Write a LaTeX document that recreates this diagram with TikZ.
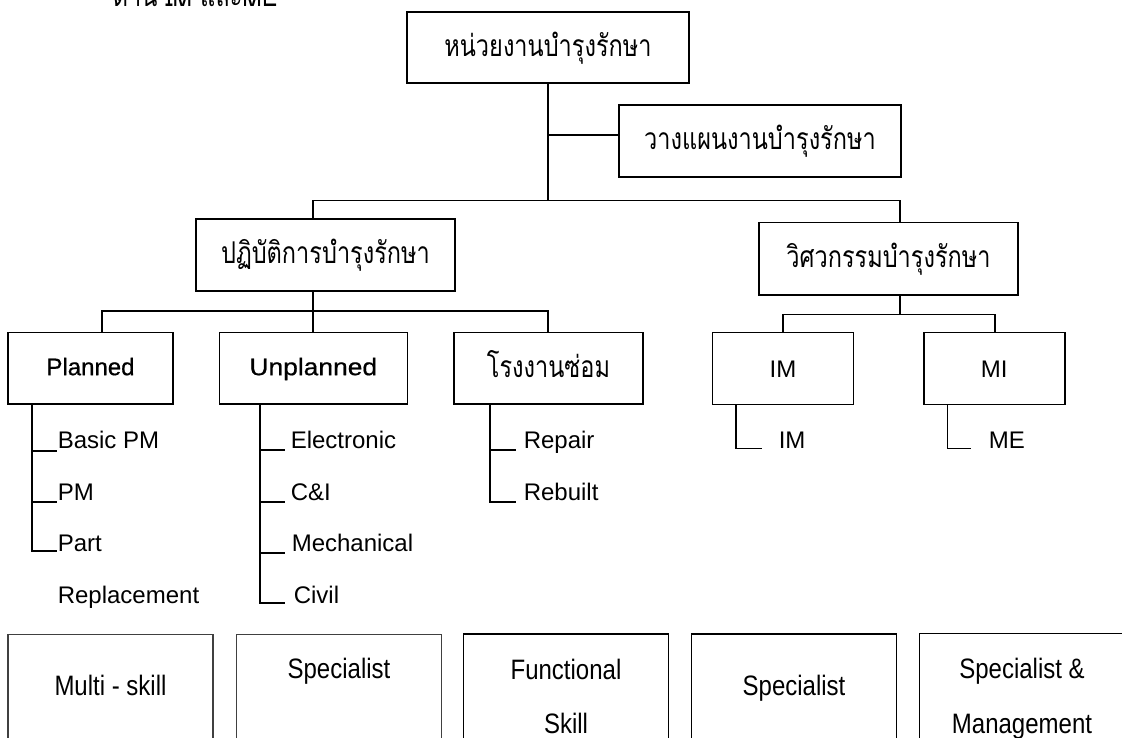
\documentclass[tikz,border=0pt]{standalone}
\usepackage{fontspec}
\usepackage{graphicx}
\usetikzlibrary{calc}
\setmainfont{Liberation Sans}
\newfontfamily\thaifam[Script=Thai]{Loma}
\newfontfamily\headfam[FakeBold=0.6]{Liberation Sans}
\newcommand\thaisize{\thaifam\fontsize{24}{28}\selectfont}
\newcommand\latsize{\fontsize{24}{28}\selectfont}
\newcommand\headsize{\headfam\fontsize{24}{28}\selectfont}
% Thai lettering and the skill captions are set a little taller than the base face
\newcommand\thaitxt[1]{\scalebox{0.98}[1.25]{#1}}
\newcommand\tallsans[1]{\scalebox{1}[1.17]{#1}}
\begin{document}
\begin{tikzpicture}[x=1pt,y=-1pt,line width=1.6pt,
  box/.style={draw, inner sep=0pt, outer sep=0pt, align=center, font=\thaisize,
    text height=23pt, text depth=5pt},
  headbox/.style={draw, inner sep=0pt, outer sep=0pt, font=\headsize,
    text height=19pt, text depth=5pt},
  latbox/.style={draw, inner sep=0pt, outer sep=0pt, font=\latsize,
    text height=20pt, text depth=2pt},
  skillbox/.style={draw, inner sep=0pt, outer sep=0pt, minimum width=205pt, minimum height=150pt, anchor=north},
  thinbox/.style={skillbox, draw=black!75, line width=1.1pt},
  item/.style={anchor=base west, inner sep=0pt, font=\latsize},
  skill/.style={anchor=base, inner sep=0pt, font=\latsize}]
\useasboundingbox (0,0) rectangle (1122,738);

% heading line running off the top edge
\node[anchor=base west, inner sep=0pt, font=\thaisize] (note) at (112,7) {\thaitxt{ด้าน IM และME}};

% management levels
\node[box, minimum width=282pt, minimum height=71pt] (top) at (548,47.5) {\thaitxt{หน่วยงานบำรุงรักษา}};
\node[box, minimum width=282pt, minimum height=72pt] (plan) at (760,141) {\thaitxt{วางแผนงานบำรุงรักษา}};
\node[box, minimum width=259pt, minimum height=72pt] (ops) at (325.5,255) {\thaitxt{ปฏิบัติการบำรุงรักษา}};
\node[box, minimum width=259pt, minimum height=72.3pt] (eng) at (888.5,258.8) {\thaitxt{วิศวกรรมบำรุงรักษา}};

% sections
\node[headbox, minimum width=164.5pt, minimum height=71.5pt] (planned) at (90.5,368.2) {Planned};
\node[headbox, minimum width=188pt, minimum height=71.5pt] (unpl) at (313.3,368.2) {\scalebox{1.1}[1]{Unplanned}};
\node[box, minimum width=189pt, minimum height=71.5pt] (shop) at (548.5,368.2) {\thaitxt{โรงงานซ่อม}};
\node[latbox, minimum width=141pt, minimum height=72pt] (im) at (783,368.3) {IM};
\node[latbox, minimum width=141pt, minimum height=72pt] (mi) at (994.3,368.3) {MI};

% tree connectors
\coordinate (j0) at (548,135);
\coordinate (bar) at (548,200.7);
\coordinate (barL) at (313,200.7);
\coordinate (barR) at (900,200.7);
\draw (top.south) -- (bar);
\draw (j0) -- (j0 -| plan.west);
\draw (ops.north -| barL) -- (barL) -- (barR) -- (eng.north -| barR);

\coordinate (opsv) at (313,311);
\coordinate (b2L) at (102,311);
\coordinate (b2R) at (548,311);
\draw (ops.south -| opsv) -- (opsv);
\draw (b2L |- planned.north) -- (b2L) -- (b2R) -- (b2R |- shop.north);
\draw (opsv) -- (opsv |- unpl.north);

\coordinate (engv) at (900,314.3);
\coordinate (b3L) at (783,314.3);
\coordinate (b3R) at (995,314.3);
\draw (eng.south -| engv) -- (engv);
\draw (b3L |- im.north) -- (b3L) -- (b3R) -- (b3R |- mi.north);

% Planned items
\node[item] (bpm) at (57,448.3) {Basic PM};
\node[item] (pm) at (57,500) {PM};
\node[item] (part) at (57,551.7) {Part};
\node[item] (repl) at (57,603.3) {Replacement};
\coordinate (p1) at (32,451);
\coordinate (p2) at (32,501.7);
\coordinate (p3) at (32,550.7);
\draw (planned.south -| p1) -- (p3) -- (p3 -| part.west);
\draw (p1) -- (p1 -| bpm.west);
\draw (p2) -- (p2 -| pm.west);

% Unplanned items
\node[item] (elec) at (290,448) {Electronic};
\node[item] (ci) at (290,500) {C\&I};
\node[item] (mech) at (291,551) {Mechanical};
\node[item] (civil) at (293,603) {Civil};
\coordinate (u1) at (260,450);
\coordinate (u2) at (260,501.7);
\coordinate (u3) at (260,552.7);
\coordinate (u4) at (260,602.7);
\draw (unpl.south -| u1) -- (u4) -- ($(u4 -| civil.west)+(-8,0)$);
\draw (u1) -- ($(u1 -| elec.west)+(-5,0)$);
\draw (u2) -- ($(u2 -| ci.west)+(-5,0)$);
\draw (u3) -- ($(u3 -| mech.west)+(-6,0)$);

% workshop items
\node[item] (rep) at (523,448) {Repair};
\node[item] (reb) at (523,500) {Rebuilt};
\coordinate (s1) at (490,450);
\coordinate (s2) at (490,502);
\draw (shop.south -| s1) -- (s2) -- ($(s2 -| reb.west)+(-7.5,0)$);
\draw (s1) -- ($(s1 -| rep.west)+(-7.5,0)$);

% engineering items
\node[item] (imi) at (778,448) {IM};
\node[item] (mei) at (988,448) {ME};
\coordinate (e1) at (736,448.3);
\coordinate (e2) at (947.5,448.3);
\draw (im.south -| e1) -- (e1) -- ($(e1 -| imi.west)+(-16,0)$);
\draw (mi.south -| e2) -- (e2) -- ($(e2 -| mei.west)+(-17,0)$);

% skill boxes along the bottom edge
\node[thinbox] (k1) at (110.5,634.5) {};
\node[thinbox] (k2) at (339,634.5) {};
\node[skillbox] (k3) at (566,634) {};
\node[skillbox] (k4) at (794,634) {};
\node[skillbox] (k5) at (1022,633.5) {};
\node[skill] (t1) at (k1.north |- 0,695) {\tallsans{Multi - skill}};
\node[skill] (t2) at (k2.north |- 0,678) {\tallsans{Specialist}};
\node[skill] (t3a) at (k3.north |- 0,679) {\tallsans{Functional}};
\node[skill] (t3b) at (k3.north |- 0,733) {\tallsans{Skill}};
\node[skill] (t4) at (k4.north |- 0,695) {\tallsans{Specialist}};
\node[skill] (t5a) at (k5.north |- 0,678) {\tallsans{Specialist \&}};
\node[skill] (t5b) at (k5.north |- 0,733) {\tallsans{Management}};
\end{tikzpicture}
\end{document}
